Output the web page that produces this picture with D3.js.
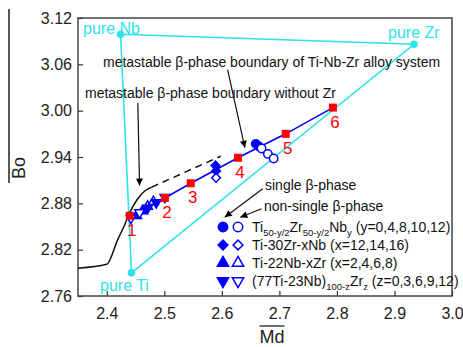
<!DOCTYPE html>
<html><head><meta charset="utf-8">
<script src="https://cdn.jsdelivr.net/npm/d3@7"></script>
<style>
body{margin:0;background:#fff}
text{font-family:Arial,"Liberation Sans",sans-serif}
</style>
</head><body>
<svg id="chart" width="463" height="347"></svg>
<script>
var xTicks = [2.4, 2.5, 2.6, 2.7, 2.8, 2.9, 3.0];
var yTicks = [2.76, 2.82, 2.88, 2.94, 3.00, 3.06, 3.12];

// cyan triangle: pure elements
var pureNames = ["pure Nb", "pure Zr", "pure Ti"];
var pureMd = [2.424, 2.934, 2.443];
var pureBo = [3.099, 3.086, 2.790];

// red squares 1-6
var squareLabels = ["1", "2", "3", "4", "5", "6"];
var squareMd = [2.440, 2.501, 2.546, 2.628, 2.711, 2.793];
var squareBo = [2.864, 2.887, 2.906, 2.939, 2.970, 3.004];

// boundary without Zr (solid part + dashed part)
var boundaryMd = [2.35, 2.40, 2.419, 2.431, 2.440, 2.452, 2.466, 2.478];
var boundaryBo = [2.796, 2.801, 2.833, 2.852, 2.868, 2.884, 2.896, 2.901];
var dashedMd = [2.478, 2.598];
var dashedBo = [2.901, 2.941];

// Ti50-y/2Zr50-y/2Nby  (y=12,10,8,4,0)
var circleMd = [2.659, 2.664, 2.669, 2.680, 2.690];
var circleBo = [2.957, 2.954, 2.951, 2.944, 2.938];
var circleSingle = [1, 1, 0, 0, 0];

// Ti-30Zr-xNb (x=16,14,12)
var diamondMd = [2.589, 2.590, 2.590];
var diamondBo = [2.929, 2.922, 2.913];
var diamondSingle = [1, 1, 0];

// Ti-22Nb-xZr (x=2,4,6,8)
var triMd = [2.452, 2.462, 2.471, 2.481];
var triBo = [2.864, 2.870, 2.876, 2.882];
var triSingle = [1, 1, 0, 0];

// (77Ti-23Nb)100-zZrz (z=0,3,6,9,12)
var invMd = [2.442, 2.457, 2.471, 2.486, 2.501];
var invBo = [2.861, 2.868, 2.874, 2.881, 2.888];
var invSingle = [0, 0, 1, 1, 0];

var legendRows = [
    [{t: "Ti"}, {t: "50-y/2", s: 1}, {t: "Zr"}, {t: "50-y/2", s: 1}, {t: "Nb"}, {t: "y", s: 1}, {t: " (y=0,4,8,10,12)"}],
    [{t: "Ti-30Zr-xNb (x=12,14,16)"}],
    [{t: "Ti-22Nb-xZr (x=2,4,6,8)"}],
    [{t: "(77Ti-23Nb)"}, {t: "100-z", s: 1}, {t: "Zr"}, {t: "z", s: 1}, {t: " (z=0,3,6,9,12)"}]
];

var CYAN = "#2ee2ea", BLUE = "#0000ff", RED = "#ff0000";

var svg = d3.select("#chart");
var plotL = 78, plotR = 452, plotT = 18, plotB = 296;

var x = d3.scaleLinear().domain([2.35, 3.0]).range([plotL, plotR]);
var y = d3.scaleLinear().domain([2.76, 3.12]).range([plotB, plotT]);

function pts(mx, by) {
    return mx.map(function (d, i) { return [x(d), y(by[i])]; });
}

var defs = svg.append("defs");
defs.append("marker").attr("id", "arr")
    .attr("viewBox", "0 0 10 10").attr("refX", 10).attr("refY", 5)
    .attr("markerWidth", 9).attr("markerHeight", 7)
    .attr("markerUnits", "userSpaceOnUse").attr("orient", "auto")
    .append("path").attr("d", "M0,0L10,5L0,10Z").attr("fill", "#000");

// axes
var xAxis = d3.axisBottom(x).tickValues(xTicks).tickSizeInner(-5).tickSizeOuter(0)
    .tickPadding(12).tickFormat(d3.format(".1f"));
var gx = svg.append("g").attr("transform", "translate(0," + plotB + ")").call(xAxis);
var yAxis = d3.axisLeft(y).tickValues(yTicks).tickSizeInner(-5).tickSizeOuter(0)
    .tickPadding(6).tickFormat(d3.format(".2f"));
var gy = svg.append("g").attr("transform", "translate(" + plotL + ",0)").call(yAxis);
[gx, gy].forEach(function (g) {
    g.select(".domain").remove();
    g.selectAll(".tick line").attr("stroke", "#333").attr("stroke-width", 1.2);
    g.selectAll(".tick text").attr("font-size", 16).attr("fill", "#222")
        .attr("font-family", "Arial, 'Liberation Sans', sans-serif");
});

svg.append("rect").attr("x", plotL).attr("y", plotT)
    .attr("width", plotR - plotL).attr("height", plotB - plotT)
    .attr("fill", "none").attr("stroke", "#444").attr("stroke-width", 1.5);

// axis titles with overbars
var md = svg.append("text").attr("x", 272).attr("y", 343).attr("text-anchor", "middle")
    .attr("font-size", 18).attr("fill", "#222").text("Md");
var mb = md.node().getBBox();
svg.append("line").attr("x1", mb.x).attr("x2", mb.x + mb.width)
    .attr("y1", 326).attr("y2", 326).attr("stroke", "#222").attr("stroke-width", 1.3);

svg.append("text").attr("transform", "translate(25,168) rotate(-90)")
    .attr("text-anchor", "middle").attr("font-size", 18).attr("fill", "#222").text("Bo");
svg.append("line").attr("x1", 9).attr("x2", 9).attr("y1", 9).attr("y2", 183)
    .attr("stroke", "#222").attr("stroke-width", 1.5);

var line = d3.line();

// cyan triangle
var tri = pts(pureMd, pureBo);
svg.append("path").attr("d", line(tri.concat([tri[0]])))
    .attr("fill", "none").attr("stroke", CYAN).attr("stroke-width", 1.6);
svg.selectAll(".pure").data(tri).enter().append("circle")
    .attr("cx", function (d) { return d[0]; }).attr("cy", function (d) { return d[1]; })
    .attr("r", 3.8).attr("fill", CYAN);
var pureLab = [[83, 34], [388, 38], [100, 291]];
pureNames.forEach(function (n, i) {
    svg.append("text").attr("x", pureLab[i][0]).attr("y", pureLab[i][1])
        .attr("font-size", 16).attr("fill", CYAN).text(n);
});

// black boundary
svg.append("path").attr("d", d3.line().curve(d3.curveMonotoneX)(pts(boundaryMd, boundaryBo)))
    .attr("fill", "none").attr("stroke", "#111").attr("stroke-width", 1.5);
svg.append("path").attr("d", line(pts(dashedMd, dashedBo)))
    .attr("fill", "none").attr("stroke", "#111").attr("stroke-width", 1.5)
    .attr("stroke-dasharray", "7,5");

// blue line through the squares
svg.append("path").attr("d", line(pts(squareMd, squareBo)))
    .attr("fill", "none").attr("stroke", BLUE).attr("stroke-width", 1.6);

function drawSymbols(mx, by, single, type, size, rot) {
    var sym = d3.symbol().type(type).size(size);
    mx.forEach(function (d, i) {
        svg.append("path").attr("d", sym())
            .attr("transform", "translate(" + x(d) + "," + y(by[i]) + ") rotate(" + rot + ")")
            .attr("fill", single[i] ? BLUE : "#fff")
            .attr("stroke", BLUE).attr("stroke-width", 1.5);
    });
}
drawSymbols(triMd, triBo, triSingle, d3.symbolTriangle, 40, 0);
drawSymbols(invMd, invBo, invSingle, d3.symbolTriangle, 40, 180);
drawSymbols(diamondMd, diamondBo, diamondSingle, d3.symbolSquare, 38, 45);
drawSymbols(circleMd, circleBo, circleSingle, d3.symbolCircle, 55, 0);

// red squares and numbers
var sq = pts(squareMd, squareBo);
svg.selectAll(".sq").data(sq).enter().append("rect")
    .attr("x", function (d) { return d[0] - 4; }).attr("y", function (d) { return d[1] - 4; })
    .attr("width", 8).attr("height", 8).attr("fill", RED);
svg.selectAll(".sqlab").data(sq).enter().append("text")
    .attr("x", function (d) { return d[0] + 2; }).attr("y", function (d) { return d[1] + 20; })
    .attr("text-anchor", "middle").attr("font-size", 17).attr("fill", RED)
    .text(function (d, i) { return squareLabels[i]; });

// annotations
function note(tx, ty, str) {
    svg.append("text").attr("x", tx).attr("y", ty).attr("font-size", 14)
        .attr("fill", "#111").text(str);
}
function arrow(x1, y1, x2, y2) {
    svg.append("line").attr("x1", x(x1)).attr("y1", y(y1)).attr("x2", x(x2)).attr("y2", y(y2))
        .attr("stroke", "#111").attr("stroke-width", 1.2).attr("marker-end", "url(#arr)");
}
note(103, 67, "metastable \u03b2-phase boundary of Ti-Nb-Zr alloy system");
note(85, 98, "metastable \u03b2-phase boundary without Zr");
note(265, 190, "single \u03b2-phase");
note(264, 211, "non-single \u03b2-phase");
arrow(2.610, 3.053, 2.640, 2.952);
arrow(2.454, 3.010, 2.457, 2.903);
arrow(2.671, 2.899, 2.605, 2.862);
arrow(2.669, 2.873, 2.632, 2.862);

// legend
var legTypes = [[d3.symbolCircle, 70, 0], [d3.symbolSquare, 48, 45], [d3.symbolTriangle, 55, 0], [d3.symbolTriangle, 55, 180]];
legendRows.forEach(function (row, i) {
    var ry = 227 + i * 18;
    var sym = d3.symbol().type(legTypes[i][0]).size(legTypes[i][1]);
    [223, 238].forEach(function (sx, j) {
        svg.append("path").attr("d", sym())
            .attr("transform", "translate(" + sx + "," + ry + ") rotate(" + legTypes[i][2] + ")")
            .attr("fill", j === 0 ? BLUE : "#fff").attr("stroke", BLUE).attr("stroke-width", 1.5);
    });
    var t = svg.append("text").attr("x", 252).attr("y", ry + 5).attr("font-size", 14).attr("fill", "#111");
    var down = false;
    row.forEach(function (p) {
        var ts = t.append("tspan").text(p.t);
        if (p.s && !down) { ts.attr("dy", 4).attr("font-size", 9.5); down = true; }
        else if (p.s) { ts.attr("font-size", 9.5); }
        else if (down) { ts.attr("dy", -4); down = false; }
    });
});
</script>
</body></html>
